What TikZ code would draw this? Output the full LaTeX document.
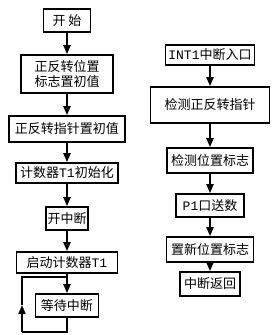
\documentclass[tikz,border=0pt]{standalone}
\usepackage{fontspec}
\setmainfont{Noto Sans CJK SC}
\newfontfamily\latmono{Liberation Mono}
\usetikzlibrary{arrows.meta}

\tikzset{
  stepbox/.style={draw, line width=1.6pt, inner sep=0pt, align=center,
    font=\fontsize{13}{14.5}\selectfont},
  flowline/.style={line width=2pt},
  flow/.style={flowline, -{Triangle[length=9pt,width=7pt]}},
}

\begin{document}
\begin{tikzpicture}[x=1pt, y=-1pt]
    \useasboundingbox (0,0) rectangle (278,335);

    % Main program
    \node[stepbox, minimum width=47pt, minimum height=23pt] (start) at (67,20.5) {开\ 始};
    \node[stepbox, minimum width=92pt, minimum height=38pt] (initpos) at (67,74) {正反转位置\\标志置初值};
    \node[stepbox, minimum width=116pt, minimum height=26pt] (initptr) at (67,129) {正反转指针置初值};
    \node[stepbox, minimum width=102pt, minimum height=20pt] (inittimer) at (67,173) {计数器{\latmono T1}初始化};
    \node[stepbox, minimum width=42pt, minimum height=23pt] (enint) at (67,218.5) {开中断};
    \node[stepbox, minimum width=101pt, minimum height=21pt] (runtimer) at (67,262.5) {启动计数器{\latmono T1}};
    \node[stepbox, minimum width=63pt, minimum height=23pt] (wait) at (67,305.5) {等待中断};

    \draw[flow] (start) -- (initpos);
    \draw[flow] (initpos) -- (initptr);
    \draw[flow] (initptr) -- (inittimer);
    \draw[flow] (inittimer) -- (enint);
    \draw[flow] (enint) -- (runtimer);
    \draw[flow] (runtimer) -- (wait);

    % Waiting loop
    \coordinate (loopbl) at (22,332);
    \coordinate (looptip) at (22,305);
    \coordinate (loopjoin) at (67,277);
    \draw[flowline] (wait.south) |- (loopbl);
    \draw[flow] (loopbl) -- (looptip);
    \draw[flowline] (looptip) |- (loopjoin);

    % Interrupt routine
    \node[stepbox, minimum width=89pt, minimum height=20pt] (intentry) at (210,55) {{\latmono INT1}中断入口};
    \node[stepbox, minimum width=119pt, minimum height=36pt] (chkptr) at (210,105) {检测正反转指针};
    \node[stepbox, minimum width=86pt, minimum height=25pt] (chkpos) at (210,160.5) {检测位置标志};
    \node[stepbox, minimum width=68pt, minimum height=23pt] (sendp1) at (210,205.5) {{\latmono P1}口送数};
    \node[stepbox, minimum width=87pt, minimum height=25pt] (newpos) at (210,249.5) {置新位置标志};
    \node[stepbox, minimum width=60pt, minimum height=24pt] (intret) at (210,284) {中断返回};

    \draw[flow] (intentry) -- (chkptr);
    \draw[flow] (chkptr) -- (chkpos);
    \draw[flow] (chkpos) -- (sendp1);
    \draw[flow] (sendp1) -- (newpos);
    \draw[flow] (newpos) -- (intret);
\end{tikzpicture}
\end{document}
